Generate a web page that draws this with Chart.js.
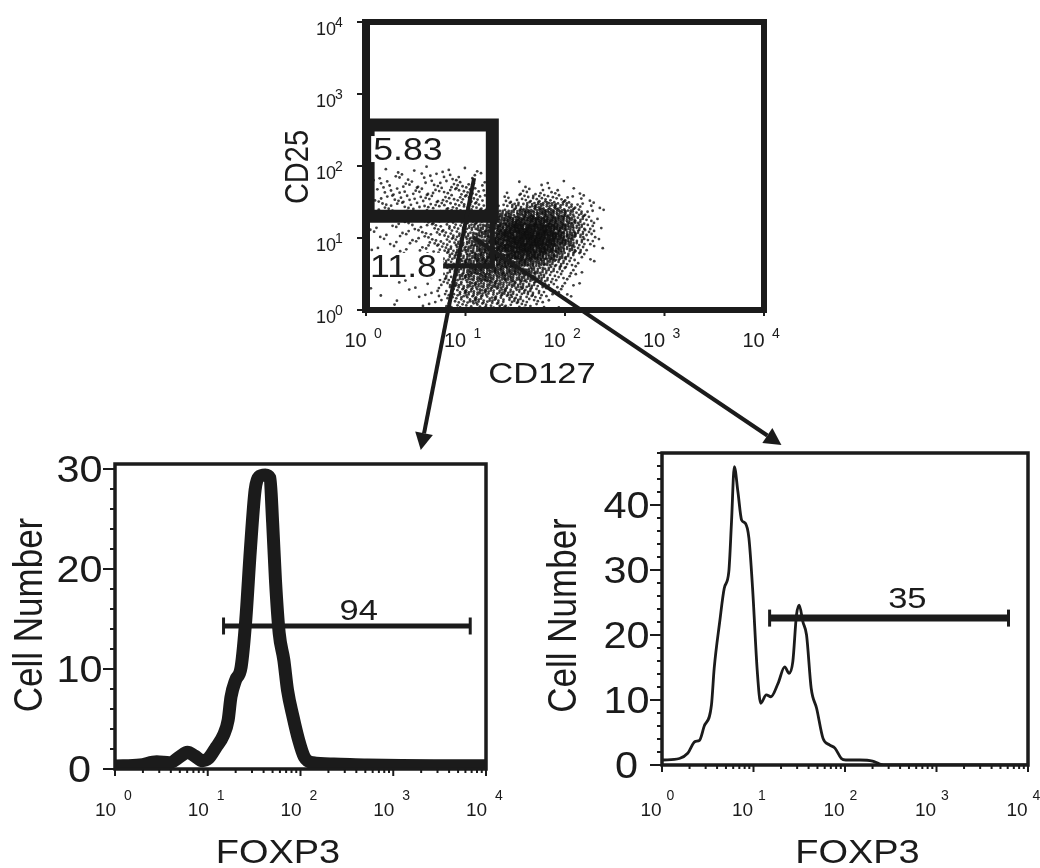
<!DOCTYPE html>
<html>
<head>
<meta charset="utf-8">
<title>CD25 / CD127 gating and FOXP3</title>
<script src="https://cdn.jsdelivr.net/npm/chart.js@4.4.1/dist/chart.umd.min.js"></script>
<style>
  html, body { margin: 0; background: #fff; }
  #fig { position: relative; width: 1040px; height: 868px; overflow: hidden; }
  #fig canvas { position: absolute; left: 0; top: 0; }
</style>
</head>
<body>
<div id="fig">
  <canvas id="histLeft" width="1040" height="868"></canvas>
  <canvas id="histRight" width="1040" height="868"></canvas>
  <canvas id="dotPlot" width="1040" height="868"></canvas>
</div>
<script>
// log decades used on every axis
const decades = [1, 10, 100, 1000, 10000];
const decadeExp = ['0', '1', '2', '3', '4'];

// CD127 (x) vs CD25 (y): events per 0.1-decade cell.
// columns: log10 CD127 0.0 .. 2.4, rows: log10 CD25 1.9 (top) .. 0.0 (bottom)
const cd25Rows = [
  [0,1,0,1,1,0,1,1,1,1,0,1,0, 0,0,0,0,0,0,0,0,0,0,0,0],
  [1,1,1,2,1,2,1,2,2,2,2,1,0, 0,0,0,0,0,0,0,0,0,0,0,0],
  [1,2,2,2,2,2,2,2,3,3,3,2,0, 0,0,1,1,1,1,1,0,0,0,0,0],
  [1,2,2,3,2,3,3,3,3,4,4,3,0, 0,1,2,2,3,2,2,1,1,0,0,0],
  [1,2,3,3,3,3,3,3,4,4,4,4,0, 1,3,4,5,5,5,4,3,2,1,0,0],
  [1,2,3,3,3,3,4,4,4,5,5,5,0, 3,6,8,10,11,11,9,7,4,2,1,0],
  [1,2,2,2,2,3,3,3,4,5,6,7,8, 10,13,16,18,19,18,15,11,6,3,1,0],
  [1,1,2,2,2,3,3,3,4,6,7,9,12, 16,21,25,27,28,26,21,14,8,4,1,0],
  [1,1,1,2,2,2,3,4,5,6,9,12,16, 22,28,32,35,35,32,26,16,9,4,1,0],
  [1,1,1,2,2,2,3,4,5,7,10,14,19, 26,32,36,38,38,34,26,17,9,4,1,0],
  [1,1,1,1,2,2,3,4,5,8,12,16,21, 27,33,37,38,37,33,24,14,7,3,1,0],
  [1,1,1,1,1,2,3,4,6,9,13,17,22, 27,32,35,35,32,26,18,11,5,2,1,0],
  [1,0,1,1,1,2,3,4,7,10,14,18,22, 25,28,29,28,24,19,12,7,3,1,0,0],
  [0,1,0,1,1,1,2,4,7,11,15,18,20, 22,23,22,20,16,12,8,4,2,1,0,0],
  [1,0,1,0,1,1,2,4,7,11,15,17,18, 18,18,17,14,11,8,5,3,1,0,0,0],
  [0,0,1,1,0,1,2,3,6,10,13,15,15, 15,14,13,11,9,6,4,2,1,0,0,0],
  [1,0,0,1,1,0,1,3,5,8,11,12,12, 12,11,10,8,6,4,3,1,1,0,0,0],
  [0,1,0,0,1,1,1,2,5,7,10,11,11, 10,9,8,7,5,3,2,1,0,0,0,0],
  [1,0,0,1,0,1,1,2,4,6,8,9,9, 8,7,6,5,4,2,1,1,0,0,0,0],
  [1,0,1,0,0,1,1,1,3,4,5,6,6, 6,5,4,3,2,1,1,0,0,0,0,0]
];

// gates on the dot plot (CD127, CD25)
const gateHighCD127 = [1.05, 1.05, 18.6, 18.6, 1.05, 1.05];
const gateHighCD25 = [100, 20, 20, 372, 372, 100];
const gateLowCD127 = [18.6, 18.6, 1.0];
const gateLowCD25 = [20, 4.1, 4.1];
const gatePercent = ['5.83', '11.8'];
const gatePercentCD127 = [1.18, 1.1];
const gatePercentCD25 = [172, 4.1];

// FOXP3 histogram of the CD25 high / CD127 low gate
const leftFoxp3 = [1, 1.86, 2.82, 3.89, 5.01, 6.03, 7.24, 8.71, 10.2, 12.3,
  14.8, 16.6, 17.8, 20.0, 22.9, 25.7, 28.8, 32.4, 35.5, 41.7,
  46.8, 50.1, 53.7, 58.9, 66.1, 72.4, 83.2, 95.5, 110, 135,
  229, 525, 2750, 10000];
const leftCells = [0.3, 0.4, 0.73, 0.63, 1.23, 1.67, 1.3, 0.83, 1.07, 2.17,
  3.4, 4.9, 7.2, 8.9, 10.2, 14.9, 21.9, 27.9, 29.2, 29.4,
  29.1, 24.6, 18.9, 13.6, 10.9, 7.9, 5.2, 2.9, 1.2, 0.63,
  0.5, 0.4, 0.33, 0.33];
const leftCountTicks = [0, 10, 20, 30];
const leftGateRange = [14.8, 6760];
const leftGateAt = 14.3;
const leftGateText = '94';
const leftGateLabel = [425, 16];

// FOXP3 histogram of the CD25 int gate
const rightFoxp3 = [1.02, 1.55, 1.91, 2.29, 2.57, 2.88, 3.47, 3.72, 4.27, 4.79,
  5.37, 5.75, 6.17, 6.76, 7.41, 8.13, 8.91, 9.77, 11.0, 12.0,
  13.8, 15.5, 18.6, 21.9, 24.5, 26.9, 29.5, 31.6, 34.7, 38.0,
  42.7, 49.0, 57.5, 67.6, 77.6, 91.2, 102, 145, 200, 240,
  282, 10000];
const rightCells = [0.77, 1.0, 1.8, 3.6, 3.8, 5.9, 9.2, 14.9, 22, 27.2,
  29.7, 37.4, 45.9, 42, 37.7, 37.2, 34.9, 27.2, 14.4, 9.5,
  10.8, 10.5, 12.6, 15.1, 14.1, 15.9, 23.1, 24.6, 22, 20,
  11.8, 8.7, 4.1, 3.1, 2.6, 1.0, 0.77, 0.77, 0.6, 0.15,
  0, 0];
const rightCountTicks = [0, 10, 20, 30, 40];
const rightGateRange = [15, 6120];
const rightGateAt = 22.6;
const rightGateText = '35';
const rightGateLabel = [480, 25.8];

// arrows: start on the dot plot (CD127, CD25), end above each histogram (FOXP3)
const arrowFromCD127 = [12.2, 11.9];
const arrowFromCD25 = [68, 10.3];
const arrowToFoxp3 = [1980, 20.2];

const INK = '#1b1b1b';
const FONT = '"Liberation Sans", Arial, Helvetica, sans-serif';
const WIDE = 1.15;   // lettering is set a little wide

function label(ctx, str, x, y, size, align, rotate, stretch) {
  ctx.save();
  ctx.translate(x, y);
  ctx.scale(stretch || WIDE, 1);
  if (rotate) ctx.rotate(-Math.PI / 2);
  ctx.font = size + 'px ' + FONT;
  ctx.textAlign = align || 'center';
  ctx.textBaseline = 'alphabetic';
  ctx.fillStyle = INK;
  ctx.fillText(str, 0, size * 0.358);
  ctx.restore();
}

function seg(ctx, x0, y0, x1, y1) {
  ctx.beginPath();
  ctx.moveTo(x0, y0);
  ctx.lineTo(x1, y1);
  ctx.stroke();
}

function power(ctx, px, py, exp, p) {
  label(ctx, '10', px + p.baseDx, py + p.baseDy, p.base, 'center', false, 1);
  label(ctx, exp, px + p.supDx, py + p.supDy, p.sup, 'center', false, 1);
}

function arrow(ctx, x0, y0, x1, y1) {
  const ang = Math.atan2(y1 - y0, x1 - x0);
  const head = 17, half = 9;
  const bx = x1 - head * Math.cos(ang), by = y1 - head * Math.sin(ang);
  ctx.lineWidth = 4;
  seg(ctx, x0, y0, bx, by);
  ctx.beginPath();
  ctx.moveTo(x1, y1);
  ctx.lineTo(bx - half * Math.sin(ang), by + half * Math.cos(ang));
  ctx.lineTo(bx + half * Math.sin(ang), by - half * Math.cos(ang));
  ctx.closePath();
  ctx.fill();
}

// spread each cell's events over the cell with a fixed stipple pattern
function cellsToEvents(rows) {
  const pts = [];
  rows.forEach((row, r) => {
    const ly = (rows.length - 1 - r) * 0.1;
    row.forEach((n, c) => {
      const lx = c * 0.1;
      const s1 = (c * 0.618 + r * 0.382) % 1;
      const s2 = (c * 0.271 + r * 0.733) % 1;
      for (let i = 0; i < n; i++) {
        const fx = (s1 + (i + 0.5) * 0.7548777) % 1;
        const fy = (s2 + (i + 0.5) * 0.5698403) % 1;
        pts.push({ x: Math.pow(10, lx + fx * 0.1), y: Math.pow(10, ly + fy * 0.1) });
      }
    });
  });
  return pts;
}

const xy = (xs, ys) => xs.map((x, i) => ({ x: x, y: ys[i] }));

function histDecor(cfg) {
  return {
    id: 'histDecor',
    afterDatasetsDraw(chart) {
      const { ctx, chartArea: a, scales: { x, y } } = chart;
      ctx.save();
      ctx.strokeStyle = INK;
      ctx.fillStyle = INK;
      ctx.lineWidth = 3.5;
      ctx.strokeRect(a.left, a.top, a.right - a.left, a.bottom - a.top);

      // count axis: long tick every 10, short every 2
      ctx.lineWidth = 2;
      for (let v = 0; v <= y.max; v += 2) {
        const py = y.getPixelForValue(v);
        const len = v % 10 === 0 ? 12 : 5;
        seg(ctx, a.left - len, py, a.left, py);
      }
      cfg.countTicks.forEach(v => label(ctx, String(v), a.left - 35.5, y.getPixelForValue(v), 36));

      // FOXP3 log axis
      decades.forEach((d, i) => {
        const px = x.getPixelForValue(d);
        seg(ctx, px, a.bottom, px, a.bottom + 7);
        power(ctx, px, a.bottom, decadeExp[i], cfg.pow);
        if (i < decades.length - 1) {
          for (let m = 2; m < 10; m++) {
            const mx = x.getPixelForValue(d * m);
            seg(ctx, mx, a.bottom, mx, a.bottom + 4);
          }
        }
      });

      label(ctx, cfg.gateText, x.getPixelForValue(cfg.gateLabel[0]), y.getPixelForValue(cfg.gateLabel[1]), 30);
      label(ctx, 'Cell Number', a.left - cfg.yTitle[0], (a.top + a.bottom) / 2 + cfg.yTitle[1], 35, 'center', true);
      label(ctx, 'FOXP3', (a.left + a.right) / 2 + cfg.xTitle[0], a.bottom + cfg.xTitle[1], 33);
      ctx.restore();
    }
  };
}

function histChart(id, xs, ys, gateRange, gateAt, pad, yMax, lineWidth, gateWidth, decor) {
  return new Chart(document.getElementById(id), {
    type: 'line',
    data: {
      datasets: [
        {
          data: xy(xs, ys),
          borderColor: INK,
          borderWidth: lineWidth,
          borderCapStyle: 'butt',
          borderJoinStyle: 'round',
          cubicInterpolationMode: 'monotone',
          pointRadius: 0,
          fill: false
        },
        {
          data: xy(gateRange, [gateAt, gateAt]),
          borderColor: INK,
          borderWidth: gateWidth,
          pointStyle: 'line',
          pointRotation: 90,
          pointRadius: 8.5,
          pointBorderWidth: 3,
          pointBorderColor: INK,
          pointBackgroundColor: INK
        }
      ]
    },
    options: {
      responsive: false,
      animation: false,
      events: [],
      layout: { padding: pad },
      plugins: { legend: { display: false }, tooltip: { enabled: false } },
      scales: {
        x: { type: 'logarithmic', min: 1, max: 10000, display: false },
        y: { type: 'linear', min: 0, max: yMax, display: false }
      }
    },
    plugins: [decor]
  });
}

const histLeft = histChart('histLeft', leftFoxp3, leftCells, leftGateRange, leftGateAt,
  { left: 115, top: 464, right: 554, bottom: 99 }, 30.5, 13, 5,
  histDecor({
    countTicks: leftCountTicks, gateText: leftGateText, gateLabel: leftGateLabel,
    pow: { base: 19, sup: 14, baseDx: -9.5, baseDy: 40, supDx: 13, supDy: 26 },
    yTitle: [87.5, -1.5], xTitle: [-22.5, 82.5]
  }));

const histRight = histChart('histRight', rightFoxp3, rightCells, rightGateRange, rightGateAt,
  { left: 662, top: 453, right: 12, bottom: 103 }, 48, 2.8, 7,
  histDecor({
    countTicks: rightCountTicks, gateText: rightGateText, gateLabel: rightGateLabel,
    pow: { base: 19, sup: 14, baseDx: -11, baseDy: 44, supDx: 8.5, supDy: 30 },
    yTitle: [100.5, 6.5], xTitle: [12.5, 86.5]
  }));

const dotDecor = {
  id: 'dotDecor',
  afterDatasetsDraw(chart) {
    const { ctx, chartArea: a, scales: { x, y } } = chart;
    ctx.save();
    ctx.strokeStyle = INK;
    ctx.fillStyle = INK;

    // gate percentages on a white patch
    gatePercent.forEach((t, i) => {
      const px = x.getPixelForValue(gatePercentCD127[i]);
      const py = y.getPixelForValue(gatePercentCD25[i]);
      ctx.fillStyle = '#fff';
      ctx.fillRect(px - 2, py - 13, 75, 26);
      label(ctx, t, px, py, 31, 'left');
    });
    ctx.fillStyle = INK;

    // frame, heavier on the left
    ctx.lineWidth = 6;
    ctx.strokeRect(a.left, a.top, a.right - a.left, a.bottom - a.top);
    ctx.fillRect(a.left - 4, a.top - 3, 8, a.bottom - a.top + 6);

    ctx.lineWidth = 2;
    const px0 = { base: 20, sup: 14, baseDx: -10.5, baseDy: 29.5, supDx: 12, supDy: 23 };
    const py0 = { base: 18, sup: 14, baseDx: -40, baseDy: 6.5, supDx: -27, supDy: 0 };
    decades.forEach((d, i) => {
      const tx = x.getPixelForValue(d);
      seg(ctx, tx, a.bottom, tx, a.bottom + 6);
      power(ctx, tx, a.bottom, decadeExp[i], px0);
      const ty = y.getPixelForValue(d);
      seg(ctx, a.left - 9, ty, a.left, ty);
      power(ctx, a.left, ty, decadeExp[i], py0);
    });

    label(ctx, 'CD25', a.left - 70, (a.top + a.bottom) / 2 + 1, 29, 'center', true);
    label(ctx, 'CD127', (a.left + a.right) / 2 - 23, a.bottom + 62.5, 30);
    ctx.restore();
  },
  afterDraw(chart) {
    const { ctx, scales: { x, y } } = chart;
    const ends = [histLeft, histRight].map((h, i) => ({
      x: h.scales.x.getPixelForValue(arrowToFoxp3[i]),
      y: h.chartArea.top - (i === 0 ? 14 : 8)
    }));
    ctx.save();
    ctx.strokeStyle = INK;
    ctx.fillStyle = INK;
    ends.forEach((e, i) => {
      arrow(ctx, x.getPixelForValue(arrowFromCD127[i]), y.getPixelForValue(arrowFromCD25[i]), e.x, e.y);
    });
    ctx.restore();
  }
};

new Chart(document.getElementById('dotPlot'), {
  type: 'scatter',
  data: {
    datasets: [
      {
        data: xy(gateHighCD127, gateHighCD25),
        showLine: true,
        borderColor: INK,
        borderWidth: 13,
        borderJoinStyle: 'miter',
        tension: 0.000001,
        pointRadius: 0,
        order: 0
      },
      {
        data: xy(gateLowCD127, gateLowCD25),
        showLine: true,
        borderColor: INK,
        borderWidth: 5,
        borderJoinStyle: 'miter',
        tension: 0.000001,
        pointRadius: 0,
        order: 0
      },
      {
        data: cellsToEvents(cd25Rows),
        pointStyle: 'circle',
        pointRadius: 1.4,
        pointBorderWidth: 0,
        pointBackgroundColor: 'rgba(15,15,15,0.8)',
        order: 1
      }
    ]
  },
  options: {
    responsive: false,
    animation: false,
    events: [],
    layout: { padding: { left: 366, top: 22, right: 276, bottom: 558 } },
    plugins: { legend: { display: false }, tooltip: { enabled: false } },
    scales: {
      x: { type: 'logarithmic', min: 1, max: 10000, display: false },
      y: { type: 'logarithmic', min: 1, max: 10000, display: false }
    }
  },
  plugins: [dotDecor]
});
</script>
</body>
</html>
